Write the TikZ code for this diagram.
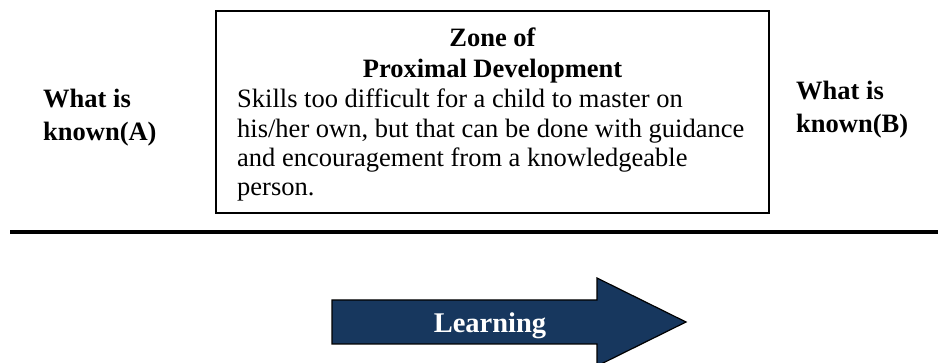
\documentclass[tikz,border=0pt]{standalone}
\usepackage{fontspec}
\setmainfont{Liberation Serif}
\definecolor{navy}{RGB}{23,55,94}
\begin{document}
\begin{tikzpicture}[x=1pt,y=-1pt,
  body/.style={font=\fontsize{26.5}{30}\selectfont,anchor=base west,inner sep=0pt},
  hd/.style={font=\fontsize{26.5}{30}\selectfont\bfseries,anchor=base,inner sep=0pt},
  side/.style={font=\fontsize{26.5}{30}\selectfont\bfseries,anchor=base west,inner sep=0pt}]
\useasboundingbox (0,0) rectangle (938,363);
\begin{scope}
\clip (0,0) rectangle (938,363);
\draw[line width=1.5pt] (216,11) rectangle (769,213);
\node[hd] (z1) at (492.5,47) {Zone of};
\node[hd] (z2) at (492.5,78) {Proximal Development};
\node[body] (b1) at (237,108) {Skills too difficult for a child to master on};
\node[body] (b2) at (237,137.5) {his/her own, but that can be done with guidance};
\node[body] (b3) at (237,167) {and encouragement from a knowledgeable};
\node[body] (b4) at (237,196) {person.};
\node[side] (a1) at (43,108) {What is};
\node[side] (a2) at (43,141) {known(A)};
\node[side] (c1) at (796,100) {What is};
\node[side] (c2) at (796,133) {known(B)};
\draw[line width=4pt] (10,232) -- (938,232);
\draw[fill=navy,draw=black,line width=1.2pt,line join=miter]
  (332,300) -- (597,300) -- (597,278) -- (686,322) -- (597,366) -- (597,344) -- (332,344) -- cycle;
\node[font=\fontsize{28.5}{30}\selectfont\bfseries,text=white,anchor=base,inner sep=0pt] (lr) at (490,333) {Learning};
\end{scope}
\end{tikzpicture}
\end{document}
